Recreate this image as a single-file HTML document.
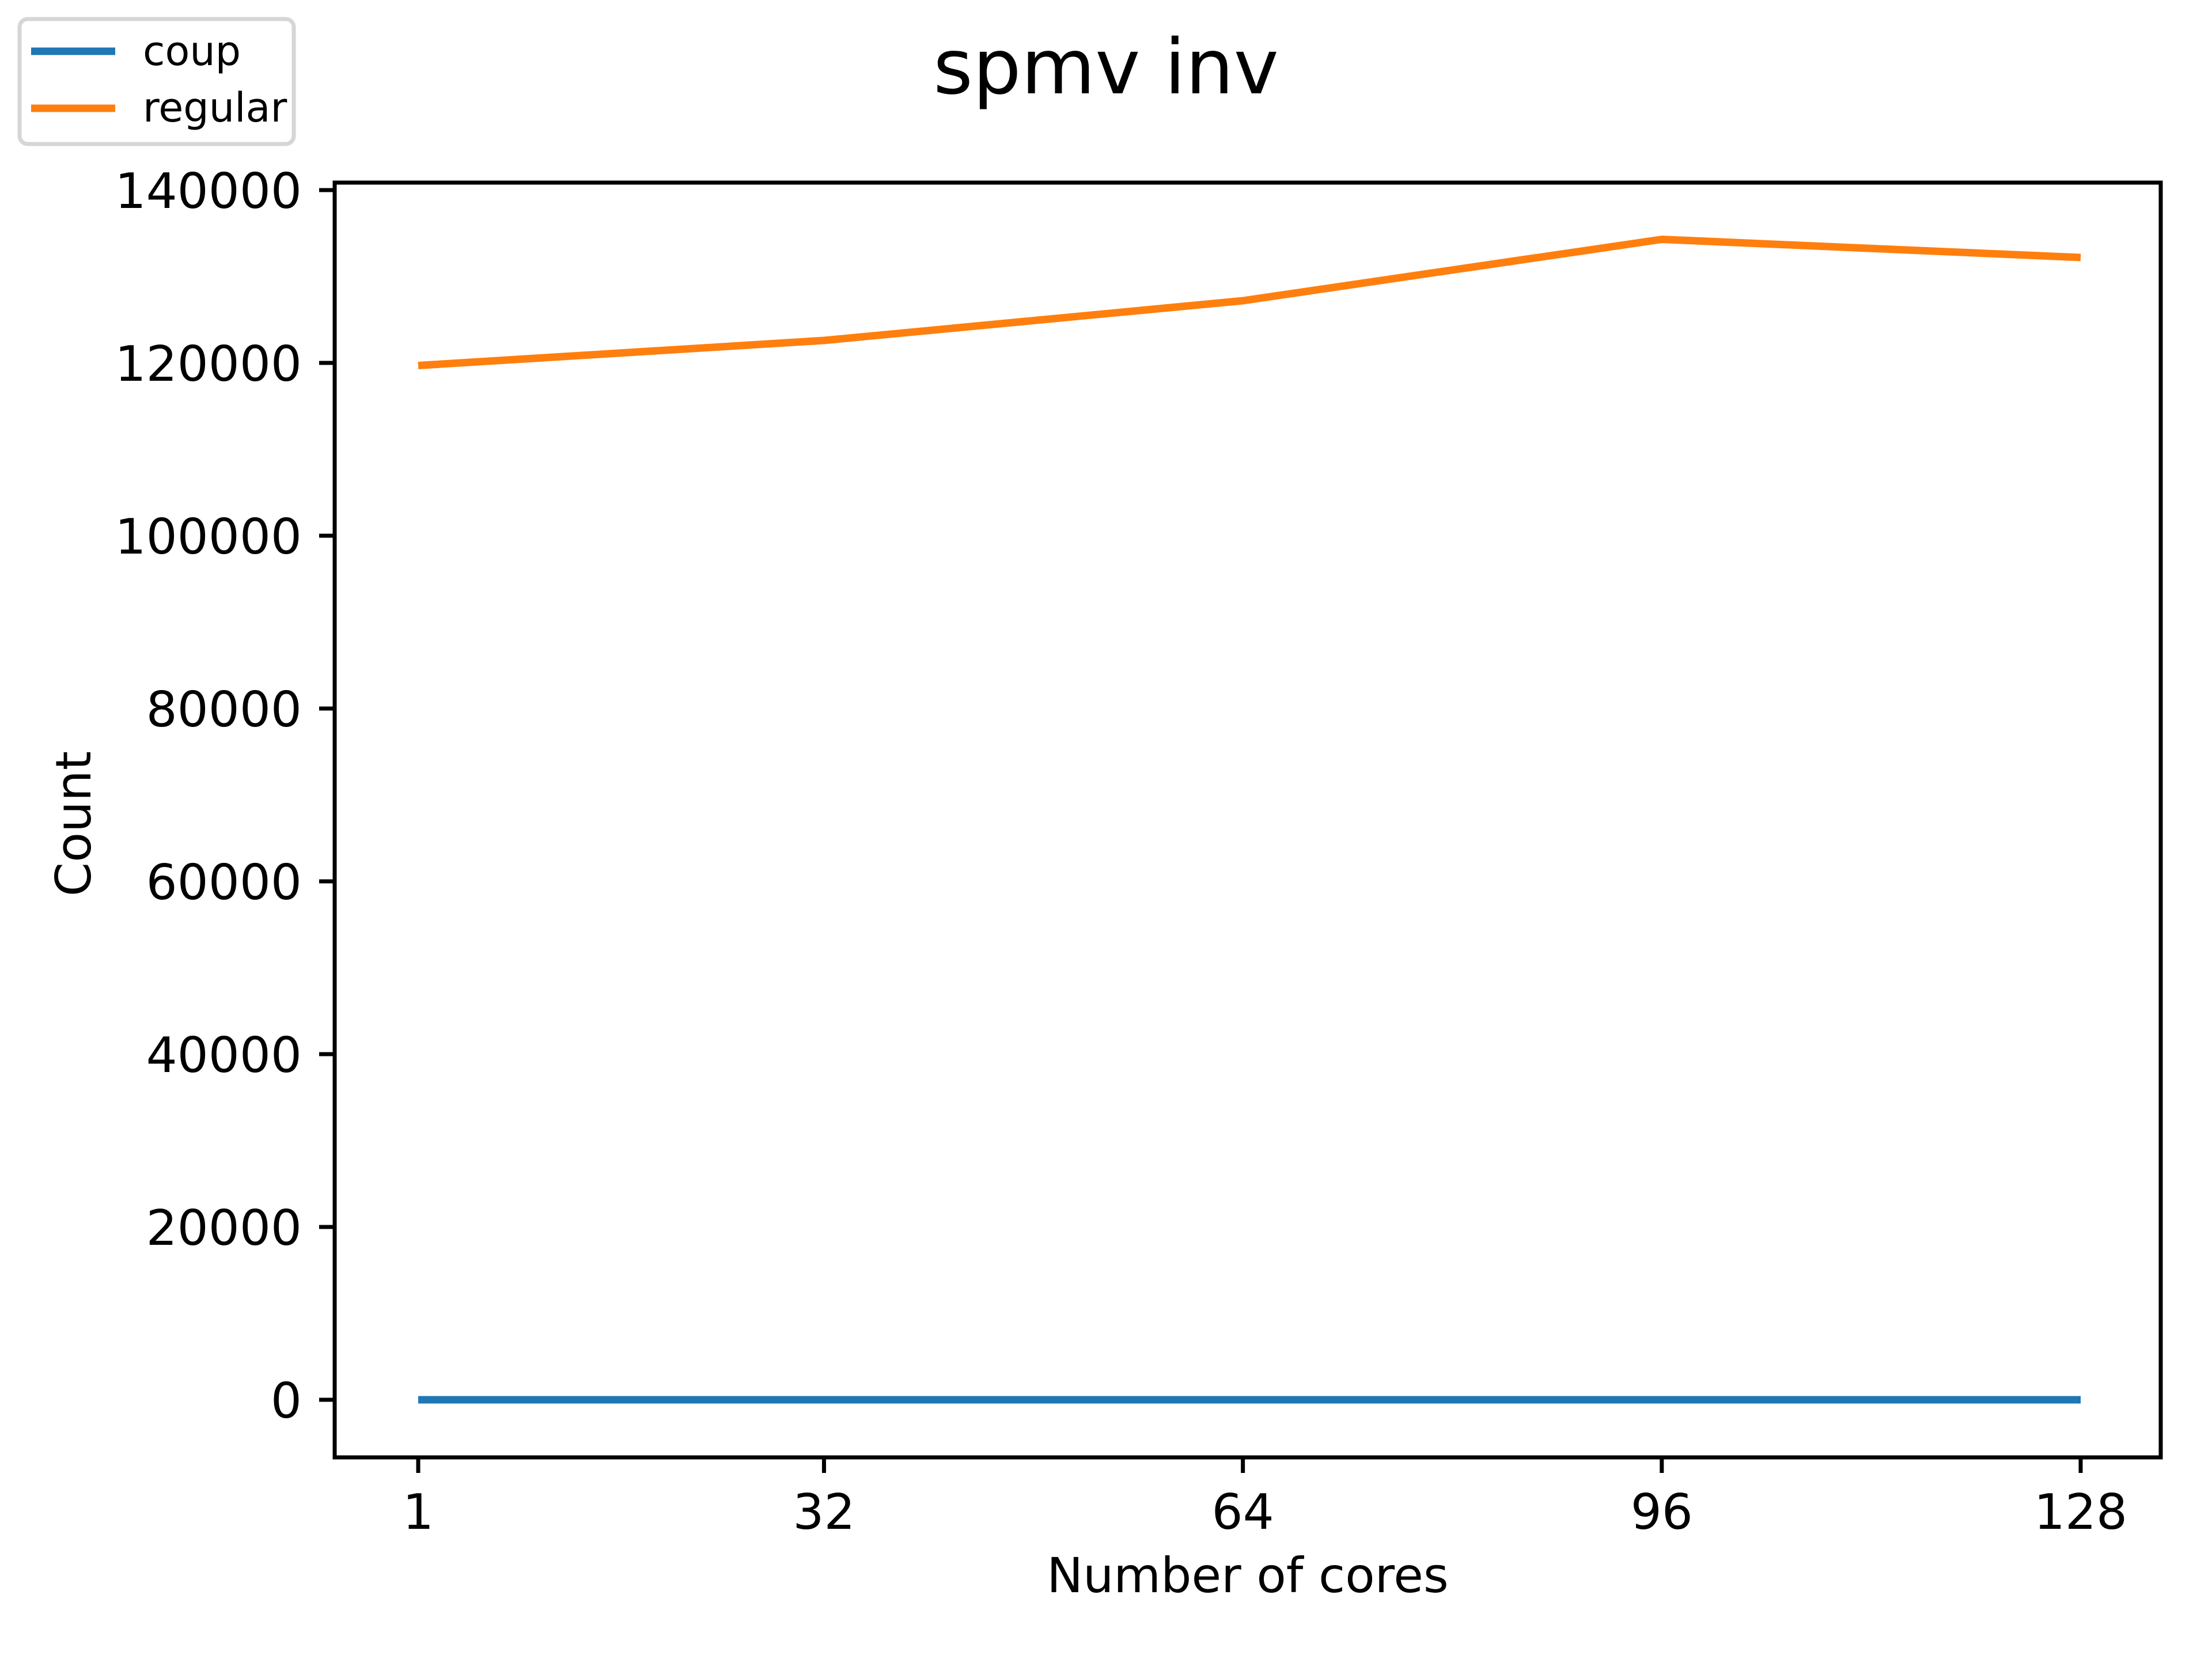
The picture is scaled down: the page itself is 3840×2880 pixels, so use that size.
<!DOCTYPE html>
<html><head><meta charset="utf-8"><style>
html,body{margin:0;padding:0;background:#fff;}
svg{display:block;font-family:"DejaVu Sans","Liberation Sans",sans-serif;}
</style></head><body>
<svg id="chart" width="3840" height="2880" viewBox="0 0 3840 2880" xmlns="http://www.w3.org/2000/svg">
<rect width="3840" height="2880" fill="#fff"/>
<text x="1920" y="162" font-size="132" text-anchor="middle">spmv inv</text>
<g id="plot"></g>
<text x="2166" y="2764" font-size="84" text-anchor="middle">Number of cores</text>
<text x="0" y="0" font-size="85" text-anchor="middle" transform="translate(157,1430) rotate(-90)">Count</text>
<g>
<rect x="34" y="33" width="476" height="217" rx="14" fill="#fff" stroke="#d6d6d6" stroke-width="7"/>
<line x1="54" y1="89" x2="200" y2="89" stroke="#1f77b4" stroke-width="13"/>
<text x="248" y="113" font-size="70">coup</text>
<line x1="54" y1="188" x2="200" y2="188" stroke="#ff7f0e" stroke-width="13"/>
<text x="248" y="211" font-size="70">regular</text>
</g>
</svg>
<script>
const cores = [1, 32, 64, 96, 128];
const coupValues = [0, 0, 0, 0, 0];
const regularValues = [119700, 122600, 127200, 134300, 132200];
const yTicks = [0, 20000, 40000, 60000, 80000, 100000, 120000, 140000];
const xTicks = [1, 32, 64, 96, 128];

const NS = 'http://www.w3.org/2000/svg';
const L = 581, R = 3751, T = 317, B = 2530;
function xs(v){ return 726 + (v - 1) * (3612 - 726) / 127; }
function ys(v){ return 2430 - v * 300 / 20000; }
const g = document.getElementById('plot');
function mk(tag, attrs){ const e = document.createElementNS(NS, tag); for (const k in attrs) e.setAttribute(k, attrs[k]); g.appendChild(e); return e; }

yTicks.forEach(t => {
  const y = ys(t);
  const tk = mk('line', {x1: L - 27, x2: L, y1: y, y2: y, stroke: '#000', 'stroke-width': 7});
  
  
  const lb = mk('text', {x: 524, y: y + 31, 'font-size': 85, 'text-anchor': 'end'});
  lb.textContent = String(t);
  
  
});
xTicks.forEach(t => {
  const x = xs(t);
  const tk = mk('line', {x1: x, x2: x, y1: B, y2: B + 27, stroke: '#000', 'stroke-width': 7});
  
  
  const lb = mk('text', {x: x, y: 2654, 'font-size': 85, 'text-anchor': 'middle'});
  lb.textContent = String(t);
  
  
});

function series(vals, color, name){
  const pts = cores.map((c, i) => xs(c) + ',' + ys(vals[i])).join(' ');
  const p = mk('polyline', {points: pts, fill: 'none', stroke: color, 'stroke-width': 13, 'stroke-linejoin': 'round'});
  
  
}
series(coupValues, '#1f77b4', 'coup-line');
series(regularValues, '#ff7f0e', 'regular-line');

const frame = mk('rect', {x: L, y: T, width: R - L, height: B - T, fill: 'none', stroke: '#000', 'stroke-width': 7});


</script>
</body></html>
